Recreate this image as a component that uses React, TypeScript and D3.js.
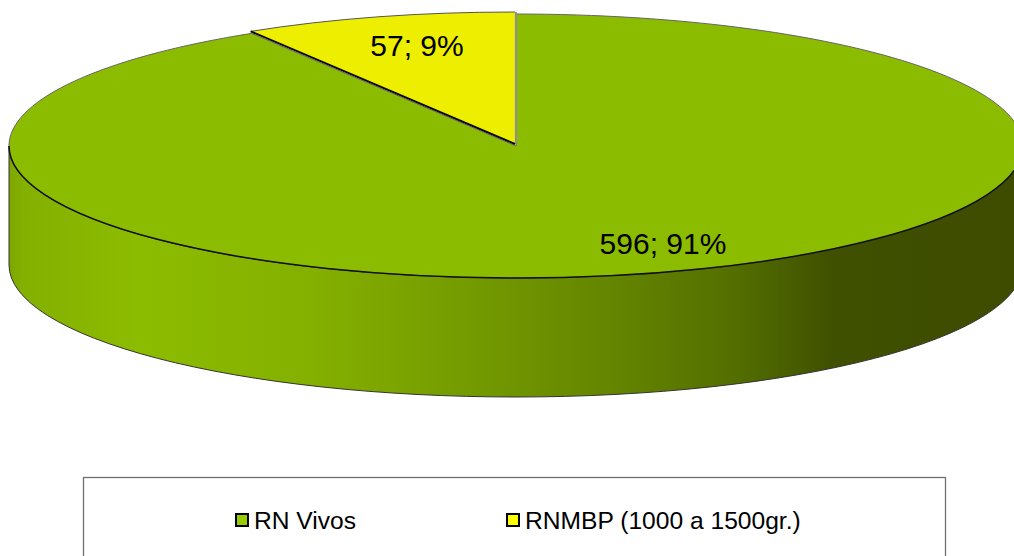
import React from "react";
import * as d3 from "d3";

const categories = ["RN Vivos", "RNMBP (1000 a 1500gr.)"];
const seriesValues = [596, 57];
const sliceLabels = ["596; 91%", "57; 9%"];
const sliceColors = ["#8cbc00", "#eeee00"];
const legendColors = ["#99cc00", "#ffff00"];
const wallStops: [number, string][] = [
  [0, "#7da700"],
  [0.015, "#84b000"],
  [0.13, "#8cbc00"],
  [0.3, "#84b000"],
  [0.45, "#759c00"],
  [0.6, "#648500"],
  [0.72, "#546f00"],
  [0.82, "#3f5000"],
  [1, "#3e4c00"],
];

const W = 1014, H = 556;
const cx = 516, cy = 146, rx = 507, ry = 132, depth = 119;

function SliceEdges({ a0, a1 }: { a0: number; a1: number }) {
  const ox = cx - 1, oy = cy - 2;
  const px = (a: number) => ox + rx * Math.sin(a);
  const py = (a: number) => oy - ry * Math.cos(a);
  return (
    <g fill="none">
      <path d={`M${px(a1) + 1},${oy} L${px(a1) + 1},${py(a1)}`} stroke="#8f8f8f" strokeWidth={2.2} />
      <path d={`M${px(a0)},${py(a0)} A${rx},${ry} 0 0 1 ${px(a1)},${py(a1)}`} stroke="#555" strokeWidth={1} />
      <path d={`M${px(a0)},${py(a0)} L${ox},${oy}`} stroke="#0a0a00" strokeWidth={2} />
    </g>
  );
}

export default function App() {
  const pie = d3.pie<number>().sort(null);
  const arcs = pie(seriesValues);
  const arc = d3.arc<d3.PieArcDatum<number>>().innerRadius(0).outerRadius(rx);
  const sy = ry / rx;

  const wallPath =
    `M${cx - rx},${cy} A${rx},${ry} 0 0 0 ${cx + rx},${cy} ` +
    `L${cx + rx},${cy + depth} A${rx},${ry} 0 0 1 ${cx - rx},${cy + depth} Z`;
  const frontEdge = `M${cx - rx},${cy} A${rx},${ry} 0 0 0 ${cx + rx},${cy}`;

  const legendX = d3.scaleOrdinal<string, number>().domain(categories).range([236, 507]);
  const legendTextX = d3.scaleOrdinal<string, number>().domain(categories).range([254, 525]);

  return (
    <svg
      width={W}
      height={H}
      viewBox={`0 0 ${W} ${H}`}
      style={{ position: "fixed", left: 0, top: 0, display: "block", background: "#fff" }}
      fontFamily="'Liberation Sans', Arial, sans-serif"
    >
      <defs>
        <linearGradient id="wall" gradientUnits="userSpaceOnUse" x1={cx - rx} x2={1014} y1={0} y2={0}>
          {wallStops.map(([o, c]) => (
            <stop key={o} offset={o} stopColor={c} />
          ))}
        </linearGradient>
      </defs>

      <path d={wallPath} fill="url(#wall)" stroke="#333" strokeWidth={1} />

      <g transform={`translate(${cx},${cy}) scale(1,${sy})`}>
        <path
          d={arc(arcs[0]) as string}
          fill={sliceColors[0]}
          stroke="#666"
          strokeWidth={1}
          style={{ vectorEffect: "non-scaling-stroke" }}
        />
      </g>
      <path d={frontEdge} fill="none" stroke="#111" strokeWidth={1.5} />

      <g transform={`translate(${cx - 1},${cy - 2}) scale(1,${sy})`}>
        <path d={arc(arcs[1]) as string} fill={sliceColors[1]} stroke="none" />
      </g>
      <SliceEdges a0={arcs[1].startAngle} a1={arcs[1].endAngle} />

      <text x={663} y={254} textAnchor="middle" fontSize={30} fill="#000">{sliceLabels[0]}</text>
      <text x={417} y={56} textAnchor="middle" fontSize={30} fill="#000">{sliceLabels[1]}</text>

      <rect x={83.5} y={477.5} width={862} height={100} fill="#fff" stroke="#707070" strokeWidth={1.3} />
      {categories.map((c, i) => (
        <g key={c}>
          <rect x={legendX(c)} y={514} width={12} height={12} fill={legendColors[i]} stroke="#000" strokeWidth={2} />
          <text x={legendTextX(c)} y={529} fontSize={24.6} fill="#000">{c}</text>
        </g>
      ))}
    </svg>
  );
}
